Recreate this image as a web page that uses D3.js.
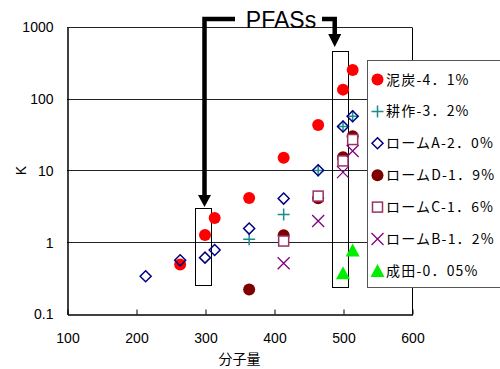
<!DOCTYPE html>
<html>
<head>
<meta charset="utf-8">
<script src="https://cdn.jsdelivr.net/npm/d3@7"></script>
<style>
  html, body { margin: 0; padding: 0; background: #fff; }
  svg { display: block; }
  .tick text { font-family: "Liberation Sans", Arial, sans-serif; font-size: 14px; fill: #000; }
</style>
</head>
<body>
<svg id="chart" width="500" height="369"></svg>
<script>
// Molecular weight (x) and partition coefficient K (y) for each soil
const mwPeat   = [264, 300, 314, 364, 414, 464, 500, 514];
const kPeat    = [0.49, 1.26, 2.18, 4.15, 15.1, 43, 134, 252];
const mwTilled = [364, 414, 464, 500, 514];
const kTilled  = [1.1, 2.43, 10, 41, 57];
const mwLoamA  = [214, 264, 300, 314, 364, 414, 464, 500, 514];
const kLoamA   = [0.336, 0.56, 0.61, 0.78, 1.55, 4.06, 10.1, 41, 57];
const mwLoamD  = [364, 414, 464, 500, 514];
const kLoamD   = [0.22, 1.25, 4.1, 15.3, 30];
const mwLoamC  = [414, 464, 500, 514];
const kLoamC   = [1.04, 4.4, 13.6, 27];
const mwLoamB  = [414, 464, 500, 514];
const kLoamB   = [0.51, 1.98, 9.5, 18.7];
const mwNarita = [500, 514];
const kNarita  = [0.37, 0.77];

const seriesNames = ["泥炭-4．1%", "耕作-3．2%", "ロームA-2．0%", "ロームD-1．9%",
                     "ロームC-1．6%", "ロームB-1．2%", "成田-0．05%"];

const xTicks = [100, 200, 300, 400, 500, 600];
const yTicks = [0.1, 1, 10, 100, 1000];
const yTickLabels = ["0.1", "1", "10", "100", "1000"];

const xTitle = "分子量";
const yTitle = "K";
const noteText = "PFASs";

// marker styles per series
const styles = [
  { shape: "circle",   color: "#ff0000" },
  { shape: "plus",     color: "#1a8c8c" },
  { shape: "diamond",  color: "#000080" },
  { shape: "circle",   color: "#800000" },
  { shape: "square",   color: "#993366" },
  { shape: "cross",    color: "#800080" },
  { shape: "triangle", color: "#00ee00" }
];

const series = [
  [mwPeat, kPeat], [mwTilled, kTilled], [mwLoamA, kLoamA], [mwLoamD, kLoamD],
  [mwLoamC, kLoamC], [mwLoamB, kLoamB], [mwNarita, kNarita]
].map(([mw, k], i) => ({
  name: seriesNames[i],
  style: styles[i],
  points: mw.map((m, j) => ({ mw: m, k: k[j] }))
}));

const svg = d3.select("#chart");
const plotLeft = 67, plotRight = 412, plotTop = 27, plotBottom = 314;

const x = d3.scaleLinear().domain([100, 600]).range([plotLeft, plotRight]);
const y = d3.scaleLog().domain([0.1, 1000]).range([plotBottom, plotTop]);

const crisp = v => Math.round(v) + 0.5;

// horizontal gridlines
svg.append("g").selectAll("line").data(yTicks.slice(1)).join("line")
  .attr("x1", plotLeft).attr("x2", plotRight)
  .attr("y1", d => crisp(y(d))).attr("y2", d => crisp(y(d)))
  .attr("stroke", "#222").attr("stroke-width", 1);

// plot border (right edge)
svg.append("line")
  .attr("x1", crisp(plotRight)).attr("x2", crisp(plotRight))
  .attr("y1", crisp(plotTop)).attr("y2", crisp(plotBottom))
  .attr("stroke", "#000");

// x axis
const xAxis = svg.append("g")
  .attr("transform", `translate(0.5,${crisp(plotBottom)})`)
  .call(d3.axisBottom(x).tickValues(xTicks).tickFormat(d3.format("d"))
    .tickSizeInner(-5).tickSizeOuter(0).tickPadding(19));
xAxis.select(".domain").attr("stroke", "#000").attr("stroke-width", 1.5);
xAxis.selectAll(".tick line").attr("stroke", "#000");

// y axis
const yAxis = svg.append("g")
  .attr("transform", `translate(${crisp(plotLeft)},0.5)`)
  .call(d3.axisLeft(y).tickValues(yTicks).tickFormat((d, i) => yTickLabels[i])
    .tickSize(0).tickPadding(14));
yAxis.select(".domain").attr("stroke", "#000").attr("stroke-width", 1.5);

// axis titles
svg.append("text")
  .attr("x", (plotLeft + plotRight) / 2).attr("y", 364)
  .attr("text-anchor", "middle")
  .style("font-family", "'Noto Sans CJK JP', sans-serif").style("font-size", "14px")
  .text(xTitle);
svg.append("text")
  .attr("transform", `translate(26,${y(10)}) rotate(-90)`)
  .attr("text-anchor", "middle")
  .style("font-family", "'Liberation Sans', Arial, sans-serif").style("font-size", "14px")
  .text(yTitle);

// highlight boxes around the PFAS columns
const boxes = [
  { mw0: 286, mw1: 309, k0: 0.257, k1: 3.0 },
  { mw0: 484, mw1: 507, k0: 0.238, k1: 460 }
];
svg.append("g").selectAll("rect").data(boxes).join("rect")
  .attr("x", d => crisp(x(d.mw0))).attr("y", d => crisp(y(d.k1)))
  .attr("width", d => Math.round(x(d.mw1) - x(d.mw0)))
  .attr("height", d => Math.round(y(d.k0) - y(d.k1)))
  .attr("fill", "none").attr("stroke", "#000").attr("stroke-width", 1);

// marker drawing
function drawMarker(g, shape, color) {
  switch (shape) {
    case "circle":
      g.append("circle").attr("r", 6).attr("fill", color);
      break;
    case "plus":
      g.append("path").attr("d", "M-6,0H6M0,-6V6")
        .attr("stroke", color).attr("stroke-width", 1.5).attr("fill", "none");
      break;
    case "diamond":
      g.append("path").attr("d", "M0,-5.5L5.5,0L0,5.5L-5.5,0Z")
        .attr("stroke", color).attr("stroke-width", 1.5).attr("fill", "none");
      break;
    case "square":
      g.append("rect").attr("x", -5).attr("y", -5).attr("width", 10).attr("height", 10)
        .attr("stroke", color).attr("stroke-width", 1.5).attr("fill", "#fff");
      break;
    case "cross":
      g.append("path").attr("d", "M-6,-6L6,6M-6,6L6,-6")
        .attr("stroke", color).attr("stroke-width", 1.3).attr("fill", "none");
      break;
    case "triangle":
      g.append("path").attr("d", "M0,-7L7,6H-7Z").attr("fill", color);
      break;
  }
}

// data points
series.forEach(s => {
  const grp = svg.append("g");
  s.points.forEach(p => {
    const g = grp.append("g").attr("transform", `translate(${x(p.mw)},${y(p.k)})`);
    drawMarker(g, s.style.shape, s.style.color);
  });
});

// annotation: label and arrows pointing to the boxed columns
svg.append("text")
  .attr("x", 281).attr("y", 28)
  .attr("text-anchor", "middle")
  .style("font-family", "'Liberation Sans', Arial, sans-serif").style("font-size", "23px")
  .text(noteText);

const bx1 = x(300) - 0.5, bx2 = x(488);
svg.append("path")
  .attr("d", `M235,19H${bx1}V197`)
  .attr("fill", "none").attr("stroke", "#000").attr("stroke-width", 4.5);
svg.append("path")
  .attr("d", `M${bx1 - 6.5},195L${bx1 + 6.5},195L${bx1},207Z`).attr("fill", "#000");
svg.append("path")
  .attr("d", `M322,19H${bx2}V36`)
  .attr("fill", "none").attr("stroke", "#000").attr("stroke-width", 4.5);
svg.append("path")
  .attr("d", `M${bx2 - 6.5},34L${bx2 + 6.5},34L${bx2},47Z`).attr("fill", "#000");

// legend
const legend = svg.append("g");
legend.append("rect")
  .attr("x", 367.5).attr("y", 60.5).attr("width", 140).attr("height", 227)
  .attr("fill", "#fff").attr("stroke", "#555").attr("stroke-width", 1);
series.forEach((s, i) => {
  const cy = 79.5 + i * 31.9;
  const g = legend.append("g").attr("transform", `translate(377.5,${cy})`);
  drawMarker(g, s.style.shape, s.style.color);
  legend.append("text")
    .attr("x", 386).attr("y", cy).attr("dy", "0.36em")
    .style("font-family", "'Noto Sans CJK JP', sans-serif").style("font-size", "14px")
    .style("letter-spacing", "1.2px")
    .text(s.name);
});
</script>
</body>
</html>
